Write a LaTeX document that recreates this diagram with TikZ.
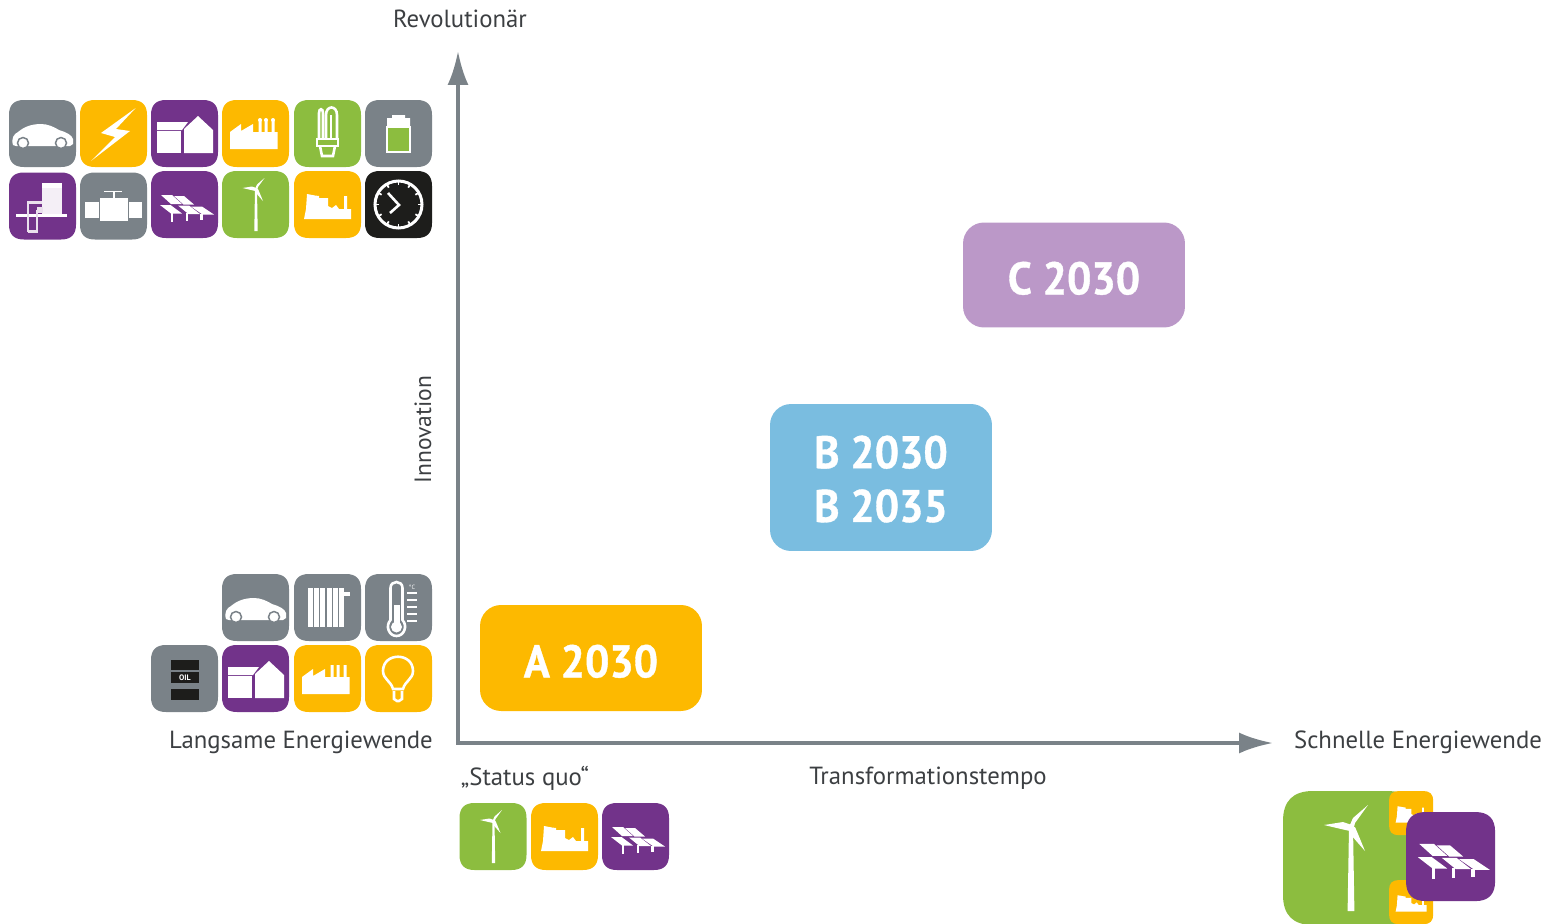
\documentclass[tikz,border=0pt]{standalone}
\usepackage{fontspec}
\setmainfont{PT Sans}
\newfontfamily\boxfont[FakeStretch=0.94,BoldFeatures={FakeBold=0.8}]{PT Sans}
\usepackage{xcolor}
\usetikzlibrary{arrows.meta}

\definecolor{tilegray}{HTML}{7A8288}
\definecolor{tileorange}{HTML}{FDB900}
\definecolor{tilepurple}{HTML}{72338A}
\definecolor{tilegreen}{HTML}{8CBD3F}
\definecolor{tileblack}{HTML}{1D1D1B}
\definecolor{boxpurple}{HTML}{BB98C8}
\definecolor{boxblue}{HTML}{7ABDE0}
\definecolor{labelgray}{HTML}{3C3F42}

% rounded tile, 67 units wide, scales together with its pic
\newcommand{\tile}[1]{\fill[#1] (15,0) -- (52,0) .. controls (62,0) and (67,5) .. (67,15) -- (67,52) .. controls (67,62) and (62,67) .. (52,67) -- (15,67) .. controls (5,67) and (0,62) .. (0,52) -- (0,15) .. controls (0,5) and (5,0) .. (15,0) -- cycle;}
\newcommand{\factoryshape}{\fill[white] (8,49) -- (8,32) -- (19,24) -- (19,31) -- (31,24) -- (31,32) -- (36.5,32) -- (36.5,20) -- (39.5,20) -- (39.5,32) -- (42.5,32) -- (42.5,20) -- (45.5,20) -- (45.5,32) -- (49.5,32) -- (49.5,20) -- (52.5,20) -- (52.5,32) -- (55.7,32) -- (55.7,49) -- cycle;}

\tikzset{
    iconline/.style={white, line width=0.052cm},
    axisline/.style={tilegray, line width=0.08cm, {Latex[length=0.68cm,width=0.42cm]}-{Latex[length=0.68cm,width=0.42cm]}},
    axislabel/.style={labelgray, font=\fontsize{14.1}{16}\selectfont},
    scenariobox/.style={rounded corners=0.42cm, minimum width=4.44cm, inner sep=0pt, align=center, text=white, font=\boxfont\fontsize{26}{30.6}\selectfont\bfseries},
    car/.pic={
        \tile{tilegray}
        \fill[white] (4,45) .. controls (2,38) and (5,34) .. (9,32) .. controls (16,26) and (24,24) .. (32,24) .. controls (39,24) and (45,27) .. (50,30) .. controls (57,32) and (63,35) .. (64,39) -- (64,44) -- (61,46) -- (7,46) -- cycle;
        \filldraw[fill=white, draw=tilegray, line width=0.03cm] (14,43) circle (5.5) (52,43) circle (5.5);
    },
    bolt/.pic={
        \tile{tileorange}
        \fill[white] (55.7,8) -- (21,33) -- (35,37) -- (11,61) -- (50,31) -- (36,29) -- cycle;
    },
    house/.pic={
        \tile{tilepurple}
        \fill[white] (6,22) -- (37,22) -- (31,30) -- (6,30) -- cycle;
        \fill[white] (6,31) rectangle (30,53);
        \fill[white] (33,53) -- (33,29) -- (47,16) -- (62,30) -- (62,53) -- cycle;
    },
    factory/.pic={
        \tile{tileorange}
        \factoryshape
    },
    factorysmoke/.pic={
        \tile{tileorange}
        \factoryshape
        \fill[white] (38,20) circle (2) (44,20) circle (2) (51,20) circle (2);
    },
    energybulb/.pic={
        \tile{tilegreen}
        \draw[iconline] (25,38) -- (25,13) .. controls (25,8) and (29,8) .. (29,13) -- (29,38);
        \draw[iconline] (32,38) -- (32,15) .. controls (32,5) and (43,5) .. (43,15) -- (43,38);
        \draw[iconline] (37,38) -- (37,15);
        \draw[iconline] (23,39) -- (44,39) -- (44,46) -- (23,46) -- cycle;
        \draw[iconline] (26,46) -- (28,56) -- (39,56) -- (41,46);
    },
    battery/.pic={
        \tile{tilegray}
        \fill[white] (27,15) -- (40,15) -- (40,18) -- (45,18) -- (45,27) -- (22,27) -- (22,18) -- (27,18) -- cycle;
        \filldraw[fill=tilegreen, draw=white, line width=0.03cm] (22,27) rectangle (45,52);
    },
    heatpump/.pic={
        \tile{tilepurple}
        \fill[white!92!tilepurple] (33,10) rectangle (53,42);
        \fill[white] (33,10) rectangle (53,15);
        \draw[iconline] (7,43) -- (58,43);
        \draw[iconline, white!85!tilepurple] (19,59) -- (19,30) -- (33,30) (19,59) -- (28,59) -- (28,39) -- (33,39) -- (33,36) -- (28,36);
    },
    valve/.pic={
        \tile{tilegray}
        \fill[white] (5,29) rectangle (19,45);
        \fill[white] (20,25) rectangle (48,48);
        \fill[white] (49,29) rectangle (62,45);
        \fill[white] (32.5,19) rectangle (34.5,25);
        \fill[white] (24,18) rectangle (42,19.5);
    },
    solar/.pic={
        \tile{tilepurple}
        \fill[white] (10,24) -- (21,24) -- (31,33) -- (20,33) -- cycle;
        \fill[white] (23,25) -- (33,25) -- (43,33.5) -- (32.5,33.5) -- cycle;
        \fill[white] (9,34) -- (19.5,34) -- (31,42.5) -- (20,42.5) -- cycle;
        \fill[white] (27,34.5) -- (38,34.5) -- (49,43) -- (37.5,43) -- cycle;
        \fill[white] (40,35.5) -- (51,35.5) -- (63,43.5) -- (51.5,43.5) -- cycle;
        \fill[white] (19.5,41) rectangle (22,50.5);
        \fill[white] (34.5,42) rectangle (37,49.5);
        \fill[white] (49,43) rectangle (51.5,48.5);
    },
    wind/.pic={
        \tile{tilegreen}
        \fill[white] (33,18) -- (35,18) -- (35.7,60) -- (32.3,60) -- cycle;
        \fill[white] (42.5,7) -- (36,16) -- (35,20) -- (33,18) -- (35,13.5) -- cycle;
        \fill[white] (20.5,17) -- (30,15.5) -- (34.5,17) -- (33.5,20) -- (29,19) -- cycle;
        \fill[white] (41,30) -- (34,22) -- (33,18.5) -- (36,18) -- (37.5,21.5) -- cycle;
    },
    plant/.pic={
        \tile{tileorange}
        \fill[white] (10,48) -- (12,38) -- (13,23) -- (21,24.5) -- (25,25) -- (25,27) -- (34,27) -- (34,35) -- (38,37) -- (42,34) -- (45,38) -- (50,38) -- (50,25) -- (53,25) -- (53,38) -- (57,38) -- (57,48) -- cycle;
    },
    clockface/.pic={
        \tile{tileblack}
        \draw[iconline, line width=0.06cm] (33.5,33.5) circle (23.5);
        \foreach \tick in {0,30,...,330}
            \draw[iconline, line width=0.035cm] (33.5,33.5) ++(\tick:23.5) -- ++(\tick+180:4);
        \draw[iconline] (23,22) -- (34,34) -- (25,42);
    },
    radiator/.pic={
        \tile{tilegray}
        \foreach \fin in {14,20.2,26.4,32.6,38.8,45}
            \fill[white] (\fin,14) rectangle (\fin+5,53);
        \fill[white] (50,18) rectangle (56,22);
    },
    thermometer/.pic={
        \tile{tilegray}
        \draw[iconline] (25.5,46) -- (25.5,14) .. controls (25.5,6) and (37.5,6) .. (37.5,14) -- (37.5,46) .. controls (43,52) and (39,62) .. (31.5,62) .. controls (24,62) and (20,52) .. (25.5,46) -- cycle;
        \fill[white] (28.5,31) rectangle (34.5,50);
        \fill[white] (31.5,53) circle (5.5);
        \foreach \mark in {19,26,33,40,47}
            \draw[iconline, line width=0.035cm] (42,\mark) -- (52,\mark);
        \node[white, font=\fontsize{3.5}{4}\selectfont] (degree) at (47,13) {°C};
    },
    oilbarrel/.pic={
        \tile{tilegray}
        \fill[tileblack] (20,15) rectangle (48,25);
        \fill[tileblack] (20,27) rectangle (48,38);
        \fill[tileblack] (20,44) rectangle (48,55);
        \node[white, font=\fontsize{4.5}{5}\selectfont\bfseries] (oil) at (34,33) {OIL};
    },
    lightbulb/.pic={
        \tile{tileorange}
        \draw[iconline] (28,44) .. controls (26,36) and (18,34) .. (18,26) .. controls (18,7) and (48,7) .. (48,26) .. controls (48,34) and (40,36) .. (38,44) -- cycle;
        \draw[iconline] (29,46) -- (29,54) -- (32,56) -- (34,56) -- (37,54) -- (37,46);
    },
}

\begin{document}
\begin{tikzpicture}[x=0.02cm, y=-0.02cm]
    \useasboundingbox (0,0) rectangle (1555,923);
    \clip (0,0) rectangle (1555,923);

    % Axes
    \coordinate (ytip) at (458,51);
    \coordinate (origin) at (458,743);
    \coordinate (xtip) at (1273,743);
    \draw[axisline] (ytip) -- (origin) -- (xtip);

    % Axis labels
    \node[axislabel] (revolutionaer) at (460,19) {Revolutionär};
    \node[axislabel, rotate=90, font=\fontsize{13.4}{16}\selectfont] (innovation) at (423,429.5) {Innovation};
    \node[axislabel] (langsam) at (301,742) {Langsame Energiewende};
    \node[axislabel] (schnell) at (1418,742) {Schnelle Energiewende};
    \node[axislabel] (statusquo) at (525,778) {„Status quo“};
    \node[axislabel] (tempo) at (928,778) {Transformationstempo};

    % Scenario boxes
    \node[scenariobox, fill=boxpurple, minimum height=2.1cm, text height=22pt, text depth=0pt] (c2030) at (1074,275) {C 2030};
    \node[scenariobox, fill=boxblue, minimum height=2.94cm, text height=51pt] (b2030) at (881,477.5) {B 2030\\B 2035};
    \node[scenariobox, fill=tileorange, minimum height=2.12cm, text height=22pt, text depth=0pt] (a2030) at (591,658) {A 2030};

    % Upper icon block, first row
    \pic at (9,100) {car};
    \pic at (80,100) {bolt};
    \pic at (151,100) {house};
    \pic at (222,100) {factorysmoke};
    \pic at (294,100) {energybulb};
    \pic at (365,100) {battery};

    % Upper icon block, second row
    \pic at (9,172.5) {heatpump};
    \pic at (80,172.5) {valve};
    \pic at (151,171) {solar};
    \pic at (222,171) {wind};
    \pic at (294,171) {plant};
    \pic at (365,171) {clockface};

    % Lower icon block
    \pic at (222,574) {car};
    \pic at (294,574) {radiator};
    \pic at (365,574) {thermometer};
    \pic at (151,645) {oilbarrel};
    \pic at (222,645) {house};
    \pic at (294,645) {factory};
    \pic at (365,645) {lightbulb};

    % Status quo icons
    \pic at (459.5,803) {wind};
    \pic at (531,803) {plant};
    \pic at (602,803) {solar};

    % Large icon group, cut off by the lower edge
    \pic[scale=2] at (1283,791) {wind};
    \pic[scale=0.66] at (1389,791) {plant};
    \pic[scale=0.66] at (1389,880) {plant};
    \pic[scale=1.33] at (1406,812) {solar};
\end{tikzpicture}
\end{document}
